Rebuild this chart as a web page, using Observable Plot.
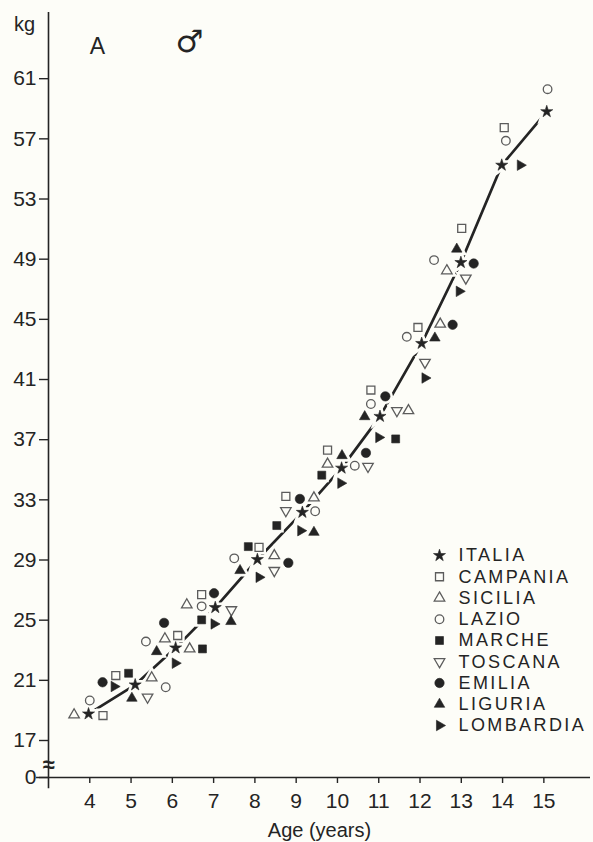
<!DOCTYPE html>
<html>
<head>
<meta charset="utf-8">
<script src="https://cdn.jsdelivr.net/npm/d3@7"></script>
<script src="https://cdn.jsdelivr.net/npm/@observablehq/plot@0.6"></script>
<style>
  html, body { margin: 0; padding: 0; background: #fdfdf8; }
  #chart svg { display: block; }
  [aria-description="legend"] text { letter-spacing: 2.4px; }
  [aria-label="x-axis tick label"], [aria-label="y-axis tick label"] { font-size: 21px; }
</style>
</head>
<body>
<div id="chart"></div>
<script>
// Mean body weight (kg) by mean age (years), boys, Italian regions.
// Each entry is [age, kg].
const italia = [[3.97,18.77],[5.10,20.70],[6.08,23.16],[7.04,25.84],[8.06,29.03],[9.15,32.17],
  [10.10,35.11],[11.03,38.55],[12.04,43.40],[12.99,48.78],[13.98,55.25],[15.07,58.81]];
const campania = [[4.32,18.66],[4.63,21.32],[6.13,23.98],[6.71,26.70],[8.10,29.84],[8.75,33.23],
  [9.76,36.30],[10.81,40.30],[11.95,44.46],[13.01,51.05],[14.04,57.75]];
const sicilia = [[3.62,18.71],[5.50,21.17],[5.82,23.76],[6.42,23.09],[6.35,26.02],[8.47,29.29],
  [9.43,33.13],[9.76,35.37],[11.72,38.93],[12.49,44.68],[12.65,48.23]];
const lazio = [[4.00,19.66],[5.84,20.54],[5.36,23.58],[6.71,25.92],[7.50,29.11],[9.46,32.24],
  [10.42,35.27],[10.81,39.37],[11.68,43.84],[12.34,48.94],[14.08,56.87],[15.09,60.30]];
const marche = [[4.94,21.47],[6.73,23.09],[6.71,25.02],[7.84,29.89],[8.53,31.29],[9.62,34.64],[11.41,37.05]];
const toscana = [[5.40,19.88],[7.43,25.69],[8.47,28.30],[8.75,32.28],[10.74,35.22],[11.44,38.93],
  [12.12,42.14],[13.11,47.74]];
const emilia = [[4.31,20.87],[5.80,24.82],[7.01,26.79],[8.81,28.81],[9.09,33.06],[10.69,36.12],
  [11.16,39.88],[12.79,44.64],[13.30,48.71]];
const liguria = [[5.02,19.81],[5.62,22.91],[7.42,24.91],[7.64,28.30],[9.43,30.84],[10.11,35.94],
  [10.66,38.53],[12.36,43.76],[12.89,49.67]];
const lombardia = [[4.59,20.59],[6.07,22.14],[7.01,24.75],[8.10,27.85],[9.11,30.95],[10.08,34.11],
  [11.00,37.15],[12.12,41.10],[12.95,46.86],[14.43,55.25]];

const regionNames = ["ITALIA","CAMPANIA","SICILIA","LAZIO","MARCHE","TOSCANA","EMILIA","LIGURIA","LOMBARDIA"];
const xTicks = [4,5,6,7,8,9,10,11,12,13,14,15];
const yTicks = [17,21,25,29,33,37,41,45,49,53,57,61];

// Axis break: the bottom of the weight axis stands for 0 kg.
const yBreak = 14.54;

const bg = "#fdfdf8";
const ink = "#242424";
const openInk = "#5c5c5c";

// Symbols not provided by Plot: downward and right-pointing triangles.
const triangleDown = {
  draw(context, size) {
    const y = Math.sqrt(size / (3 * Math.sqrt(3)));
    const x = Math.sqrt(3) * y;
    context.moveTo(0, 2 * y);
    context.lineTo(x, -y);
    context.lineTo(-x, -y);
    context.closePath();
  }
};
const triangleRight = {
  draw(context, size) {
    const y = Math.sqrt(size / (3 * Math.sqrt(3)));
    const x = Math.sqrt(3) * y;
    context.moveTo(2 * y, 0);
    context.lineTo(-y, x);
    context.lineTo(-y, -x);
    context.closePath();
  }
};

const series = [
  {name: "ITALIA",    data: italia,    symbol: "star",        r: 3.8, filled: true},
  {name: "CAMPANIA",  data: campania,  symbol: "square",      r: 4.5, filled: false},
  {name: "SICILIA",   data: sicilia,   symbol: "triangle",    r: 3.9, filled: false},
  {name: "LAZIO",     data: lazio,     symbol: "circle",      r: 4.3, filled: false},
  {name: "MARCHE",    data: marche,    symbol: "square",      r: 4.5, filled: true},
  {name: "TOSCANA",   data: toscana,   symbol: triangleDown,  r: 3.9, filled: false},
  {name: "EMILIA",    data: emilia,    symbol: "circle",      r: 4.7, filled: true},
  {name: "LIGURIA",   data: liguria,   symbol: "triangle",    r: 3.9, filled: true},
  {name: "LOMBARDIA", data: lombardia, symbol: triangleRight, r: 3.9, filled: true}
];

const age = d => d[0];
const kg = d => d[1];

function markStyle(s) {
  return s.filled
    ? {fill: ink, stroke: ink, strokeWidth: 0.6}
    : {fill: bg, stroke: openInk, strokeWidth: 1.3};
}

// Knock-out halos so the line breaks around each marker.
const halos = series.map(s => Plot.dot(s.data, {
  x: age, y: kg, symbol: s.symbol, r: s.r, fill: bg, stroke: bg, strokeWidth: 6
}));
const dots = series.map(s => Plot.dot(s.data, {
  x: age, y: kg, symbol: s.symbol, r: s.r, ...markStyle(s)
}));

// Legend in the lower right of the frame.
const legendTop = 543, legendStep = 21.25;
const legendMarks = series.flatMap((s, i) => [
  Plot.dot([s.name], {frameAnchor: "top-left", dx: 391, dy: legendTop + i * legendStep,
    symbol: s.symbol, r: s.r, ...markStyle(s)}),
  Plot.text([regionNames[i]], {frameAnchor: "top-left", dx: 410, dy: legendTop + i * legendStep,
    text: d => d, textAnchor: "start", lineAnchor: "middle", fontSize: 18, fill: ink,
    ariaDescription: "legend"})
]);

const chart = Plot.plot({
  width: 593,
  height: 842,
  marginLeft: 48,
  marginRight: 3,
  marginTop: 12,
  marginBottom: 65,
  style: {background: bg, color: ink, fontFamily: "'Liberation Sans', Arial, Helvetica, sans-serif"},
  x: {domain: [3, 16.13]},
  y: {domain: [yBreak, 65.4]},
  marks: [
    // axis lines
    Plot.ruleX([3], {y1: 13.8, y2: 65.4, stroke: ink, strokeWidth: 1.6}),
    Plot.ruleY([yBreak], {x1: 2.71, x2: 16.13, stroke: ink, strokeWidth: 1.6}),
    Plot.axisY({ticks: [yBreak, ...yTicks], tickFormat: d => d === yBreak ? "0" : String(d),
      tickSize: 9, tickPadding: 3, fontSize: 21, label: null, strokeWidth: 1.4}),
    Plot.axisX({ticks: xTicks, tickSize: 6, tickPadding: 10, fontSize: 21, label: null, strokeWidth: 1.4}),
    Plot.text(["≈"], {x: () => 3, y: () => 15.35, fontSize: 22, fontWeight: "bold", fill: ink}),
    Plot.text(["Age (years)"], {frameAnchor: "bottom", dy: 53, text: d => d, fontSize: 20,
      textAnchor: "middle", lineAnchor: "middle", fill: ink}),
    Plot.text(["kg"], {frameAnchor: "top-left", dx: -24, dy: 12, text: d => d, fontSize: 20,
      textAnchor: "middle", lineAnchor: "middle", fill: ink}),
    Plot.text(["A"], {frameAnchor: "top-left", dx: 49, dy: 34, text: d => d, fontSize: 23,
      textAnchor: "middle", lineAnchor: "middle", fill: ink}),
    Plot.text(["♂"], {frameAnchor: "top-left", dx: 141, dy: 30, text: d => d, fontSize: 31,
      fontWeight: "bold", fontFamily: "DejaVu Sans", textAnchor: "middle", lineAnchor: "middle", fill: ink}),
    // national curve through the ITALIA means
    Plot.line(italia, {x: age, y: kg, stroke: ink, strokeWidth: 2.7}),
    ...halos,
    ...dots,
    ...legendMarks
  ]
});

document.getElementById("chart").append(chart);
</script>
</body>
</html>
